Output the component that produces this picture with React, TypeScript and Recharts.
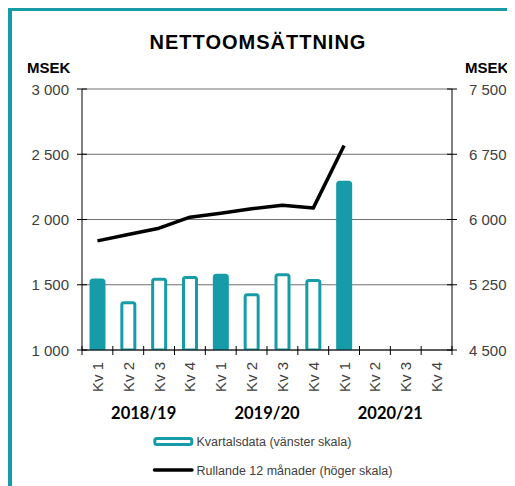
import React from "react";
import {
  ComposedChart,
  Bar,
  Line,
  XAxis,
  YAxis,
  CartesianGrid,
  Cell,
} from "recharts";

const quarters = ["Kv 1", "Kv 2", "Kv 3", "Kv 4", "Kv 1", "Kv 2", "Kv 3", "Kv 4", "Kv 1", "Kv 2", "Kv 3", "Kv 4"];
const years = ["2018/19", "2019/20", "2020/21"];
const quarterly = [1537, 1362, 1543, 1556, 1572, 1423, 1577, 1533, 2285, null, null, null];
const rolling = [5754, 5827, 5900, 6027, 6073, 6123, 6163, 6131, 6851, null, null, null];
const leftTicks = [1000, 1500, 2000, 2500, 3000];
const rightTicks = [4500, 5250, 6000, 6750, 7500];

const TEAL = "#169ca9";
const SANS = "'Liberation Sans', Arial, sans-serif";

const W = 507;
const H = 478;
const M = { top: 81, right: 3, bottom: 76, left: 0 };
const LEFT_W = 74;
const RIGHT_W = 60;
const BAND = (W - M.left - M.right - LEFT_W - RIGHT_W) / quarters.length;

const data = quarters.map((q, i) => ({ q, kv: quarterly[i], r12: rolling[i] }));

const fmt = (n: number) => String(n).replace(/\B(?=(\d{3})+(?!\d))/g, " ");

function LeftTick({ x, y, payload }: any) {
  return (
    <g>
      <line x1={x - 5} x2={x + 5} y1={y} y2={y} stroke="#000" />
      <text x={x - 13} y={y} textAnchor="end" dominantBaseline="central" fontSize={15} fill="#404040" fontFamily={SANS}>
        {fmt(payload.value)}
      </text>
    </g>
  );
}

function RightTick({ x, y, payload }: any) {
  return (
    <g>
      <line x1={x - 5} x2={x + 5} y1={y} y2={y} stroke="#000" />
      <text x={x + 17} y={y} textAnchor="start" dominantBaseline="central" fontSize={15} fill="#404040" fontFamily={SANS}>
        {fmt(payload.value)}
      </text>
    </g>
  );
}

function QuarterTick({ x, y, payload, index }: any) {
  const ty = y + 12;
  return (
    <g>
      <line x1={x - BAND / 2} x2={x - BAND / 2} y1={y - 4} y2={y + 5} stroke="#000" />
      {index === quarters.length - 1 && (
        <line x1={x + BAND / 2} x2={x + BAND / 2} y1={y - 4} y2={y + 5} stroke="#000" />
      )}
      <text
        x={x}
        y={ty}
        transform={`rotate(-90 ${x} ${ty})`}
        textAnchor="end"
        dominantBaseline="central"
        fontSize={15}
        fill="#404040"
        fontFamily={SANS}
      >
        {payload.value}
      </text>
      {index % 4 === 1 && (
        <text
          x={x + BAND / 2}
          y={y + 69}
          textAnchor="middle"
          fontSize={16.5}
          fontWeight="bold"
          fill="#000"
          fontFamily="Lato, 'Liberation Sans', sans-serif"
        >
          {years[Math.floor(index / 4)]}
        </text>
      )}
    </g>
  );
}

export default function App() {
  return (
    <div style={{ position: "relative", width: W, height: H, background: "#fff" }}>
      <div style={{ position: "absolute", left: 0, top: -1, width: W, height: 4, background: TEAL }} />
      <div style={{ position: "absolute", left: 0, top: -1, width: 4, height: H + 1, background: TEAL }} />
      <div style={{ position: "absolute", left: 0, top: 0 }}>
        <ComposedChart width={W} height={H} data={data} margin={M}>
          <CartesianGrid vertical={false} stroke="#707070" yAxisId="left" />
          <XAxis
            dataKey="q"
            interval={0}
            height={60}
            tick={<QuarterTick />}
            tickLine={false}
            tickSize={0}
            tickMargin={0}
            axisLine={{ stroke: "#000" }}
          />
          <YAxis
            yAxisId="left"
            orientation="left"
            width={LEFT_W}
            domain={[1000, 3000]}
            ticks={leftTicks}
            allowDataOverflow
            tick={<LeftTick />}
            tickLine={false}
            tickSize={0}
            tickMargin={0}
            axisLine={{ stroke: "#000" }}
          />
          <YAxis
            yAxisId="right"
            orientation="right"
            width={RIGHT_W}
            domain={[4500, 7500]}
            ticks={rightTicks}
            allowDataOverflow
            tick={<RightTick />}
            tickLine={false}
            tickSize={0}
            tickMargin={0}
            axisLine={{ stroke: "#000" }}
          />
          <Bar
            yAxisId="left"
            dataKey="kv"
            barSize={13}
            radius={2}
            strokeWidth={3}
            isAnimationActive={false}
          >
            {data.map((d, i) => (
              <Cell key={i} fill={d.q === "Kv 1" ? TEAL : "#fff"} stroke={TEAL} />
            ))}
          </Bar>
          <Line
            yAxisId="right"
            dataKey="r12"
            type="linear"
            stroke="#000"
            strokeWidth={3.5}
            strokeLinejoin="round"
            dot={false}
            activeDot={false}
            isAnimationActive={false}
          />
        </ComposedChart>
      </div>
      <svg
        width={W}
        height={H}
        style={{ position: "absolute", left: 0, top: 0, pointerEvents: "none" }}
      >
        <text x={250} y={41} textAnchor="middle" fontSize={20} fontWeight="bold" letterSpacing={1} fontFamily={SANS} fill="#000">
          NETTOOMSÄTTNING
        </text>
        <text x={19} y={65} fontSize={15} fontWeight="bold" fontFamily={SANS} fill="#000">
          MSEK
        </text>
        <text x={457} y={65} fontSize={15} fontWeight="bold" fontFamily={SANS} fill="#000">
          MSEK
        </text>
        <rect x={146.8} y={430.5} width={37} height={6} rx={2} fill="#fff" stroke={TEAL} strokeWidth={3} />
        <text x={188.5} y={438} fontSize={12.5} fontFamily={SANS} fill="#404040">
          Kvartalsdata (vänster skala)
        </text>
        <line x1={146.5} x2={184} y1={462} y2={462} stroke="#000" strokeWidth={3.5} strokeLinecap="round" />
        <text x={188.5} y={466.5} fontSize={12.5} fontFamily={SANS} fill="#404040">
          Rullande 12 månader (höger skala)
        </text>
      </svg>
    </div>
  );
}
